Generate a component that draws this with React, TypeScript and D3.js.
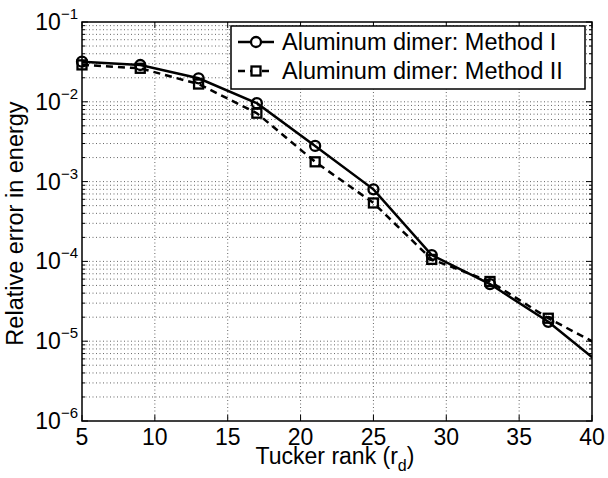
import React, { useEffect, useRef } from 'react';
import * as d3 from 'd3';

// Tucker rank (the last point sits past the axis and is clipped)
const rank = [5, 9, 13, 17, 21, 25, 29, 33, 37, 41];
const methodI = [0.0318, 0.0289, 0.0197, 0.0096, 0.0028, 0.0008, 1.2e-4, 5.2e-5, 1.75e-5, 4.5e-6];
const methodII = [0.029, 0.0263, 0.0167, 0.0072, 0.00177, 0.00054, 1.06e-4, 5.6e-5, 1.94e-5, 8e-6];
const xTicks = [5, 10, 15, 20, 25, 30, 35, 40];
const yExponents = [-6, -5, -4, -3, -2, -1];
const seriesNames = ['Aluminum dimer: Method I', 'Aluminum dimer: Method II'];

const W = 608;
const H = 478;
const FONT = 'Liberation Sans, Arial, Helvetica, sans-serif';

function App() {
  const svgRef = useRef<SVGSVGElement>(null);

  useEffect(() => {
    const svg = d3.select(svgRef.current);
    svg.selectAll('*').remove();

    const margin = { top: 22, right: 16, bottom: 57, left: 82 };
    const iw = W - margin.left - margin.right;
    const ih = H - margin.top - margin.bottom;

    const x = d3.scaleLinear().domain([5, 40]).range([0, iw]);
    const y = d3.scaleLog().domain([1e-6, 1e-1]).range([ih, 0]);

    svg.append('rect').attr('width', W).attr('height', H).attr('fill', '#fff');

    svg.append('defs').append('clipPath').attr('id', 'plotclip')
      .append('rect').attr('width', iw).attr('height', ih);

    const g = svg.append('g').attr('transform', `translate(${margin.left},${margin.top})`);

    // minor y values
    const minors: number[] = [];
    yExponents.slice(0, -1).forEach(e => {
      for (let k = 2; k <= 9; k++) minors.push(k * Math.pow(10, e));
    });
    const majors = yExponents.map(e => Math.pow(10, e));

    // grid
    const grid = g.append('g').attr('stroke', '#666').attr('stroke-width', 1)
      .attr('stroke-dasharray', '1 2.5');
    minors.concat(majors.slice(1, -1)).forEach(v => {
      grid.append('line').attr('x1', 0).attr('x2', iw)
        .attr('y1', y(v)).attr('y2', y(v));
    });
    xTicks.slice(1, -1).forEach(v => {
      grid.append('line').attr('x1', x(v)).attr('x2', x(v))
        .attr('y1', 0).attr('y2', ih);
    });

    // ticks (inside, both sides)
    const ticks = g.append('g').attr('stroke', '#000').attr('stroke-width', 1);
    xTicks.forEach(v => {
      ticks.append('line').attr('x1', x(v)).attr('x2', x(v)).attr('y1', ih).attr('y2', ih - 6);
      ticks.append('line').attr('x1', x(v)).attr('x2', x(v)).attr('y1', 0).attr('y2', 6);
    });
    majors.forEach(v => {
      ticks.append('line').attr('x1', 0).attr('x2', 6).attr('y1', y(v)).attr('y2', y(v));
      ticks.append('line').attr('x1', iw).attr('x2', iw - 6).attr('y1', y(v)).attr('y2', y(v));
    });
    minors.forEach(v => {
      ticks.append('line').attr('x1', 0).attr('x2', 3).attr('y1', y(v)).attr('y2', y(v));
      ticks.append('line').attr('x1', iw).attr('x2', iw - 3).attr('y1', y(v)).attr('y2', y(v));
    });

    // tick labels
    xTicks.forEach(v => {
      g.append('text').attr('x', x(v)).attr('y', ih + 24)
        .attr('text-anchor', 'middle').attr('font-family', FONT).attr('font-size', 23)
        .text(v);
    });
    yExponents.forEach(e => {
      const t = g.append('text').attr('x', -4).attr('y', y(Math.pow(10, e)) + 8)
        .attr('text-anchor', 'end').attr('font-family', FONT).attr('font-size', 23);
      t.append('tspan').text('10');
      t.append('tspan').attr('dy', -11).attr('font-size', 15).text('\u2212' + Math.abs(e));
    });

    // axis labels
    const xl = g.append('text').attr('x', iw / 2 - 2).attr('y', ih + 43)
      .attr('text-anchor', 'middle').attr('font-family', FONT).attr('font-size', 23);
    xl.append('tspan').text('Tucker rank (r');
    xl.append('tspan').attr('dy', 7).attr('font-size', 16).text('d');
    xl.append('tspan').attr('dy', -7).text(')');

    g.append('text')
      .attr('transform', `translate(${-59},${ih / 2 + 2}) rotate(-90)`)
      .attr('text-anchor', 'middle').attr('font-family', FONT).attr('font-size', 23.5)
      .text('Relative error in energy');

    // data
    const line = d3.line<number>().x((d, i) => x(rank[i])).y(d => y(d));
    const plot = g.append('g').attr('clip-path', 'url(#plotclip)');
    plot.append('path').attr('d', line(methodI)).attr('fill', 'none')
      .attr('stroke', '#000').attr('stroke-width', 2.5);
    plot.append('path').attr('d', line(methodII)).attr('fill', 'none')
      .attr('stroke', '#000').attr('stroke-width', 2.5).attr('stroke-dasharray', '7 5');

    const inside = rank.map((r, i) => i).filter(i => rank[i] <= 40);
    g.selectAll('circle.m1').data(inside).enter().append('circle')
      .attr('cx', i => x(rank[i])).attr('cy', i => y(methodI[i])).attr('r', 5)
      .attr('fill', 'none').attr('stroke', '#000').attr('stroke-width', 2.3);
    g.selectAll('rect.m2').data(inside).enter().append('rect')
      .attr('x', i => x(rank[i]) - 4.5).attr('y', i => y(methodII[i]) - 4.5)
      .attr('width', 9).attr('height', 9)
      .attr('fill', 'none').attr('stroke', '#000').attr('stroke-width', 2.3);

    // box
    g.append('rect').attr('width', iw).attr('height', ih).attr('fill', 'none')
      .attr('stroke', '#000').attr('stroke-width', 1.5);

    // legend
    const lx = 231 - margin.left;
    const ly = 26 - margin.top;
    const leg = g.append('g').attr('transform', `translate(${lx},${ly})`);
    leg.append('rect').attr('width', 354).attr('height', 63).attr('fill', '#fff')
      .attr('stroke', '#000').attr('stroke-width', 1.5);
    seriesNames.forEach((name, i) => {
      const cy = 16 + i * 29;
      leg.append('line').attr('x1', 7).attr('x2', 43).attr('y1', cy).attr('y2', cy)
        .attr('stroke', '#000').attr('stroke-width', 2.5)
        .attr('stroke-dasharray', i === 0 ? null : '7 5');
      if (i === 0) {
        leg.append('circle').attr('cx', 25).attr('cy', cy).attr('r', 5)
          .attr('fill', '#fff').attr('stroke', '#000').attr('stroke-width', 2.3);
      } else {
        leg.append('rect').attr('x', 20.5).attr('y', cy - 4.5).attr('width', 9).attr('height', 9)
          .attr('fill', '#fff').attr('stroke', '#000').attr('stroke-width', 2.3);
      }
      leg.append('text').attr('x', 51).attr('y', cy + 8)
        .attr('font-family', FONT).attr('font-size', 23.5).text(name);
    });
  }, []);

  return (
    <svg ref={svgRef} width={W} height={H}
      style={{ position: 'absolute', left: 0, top: 0 }} />
  );
}

export default App;
